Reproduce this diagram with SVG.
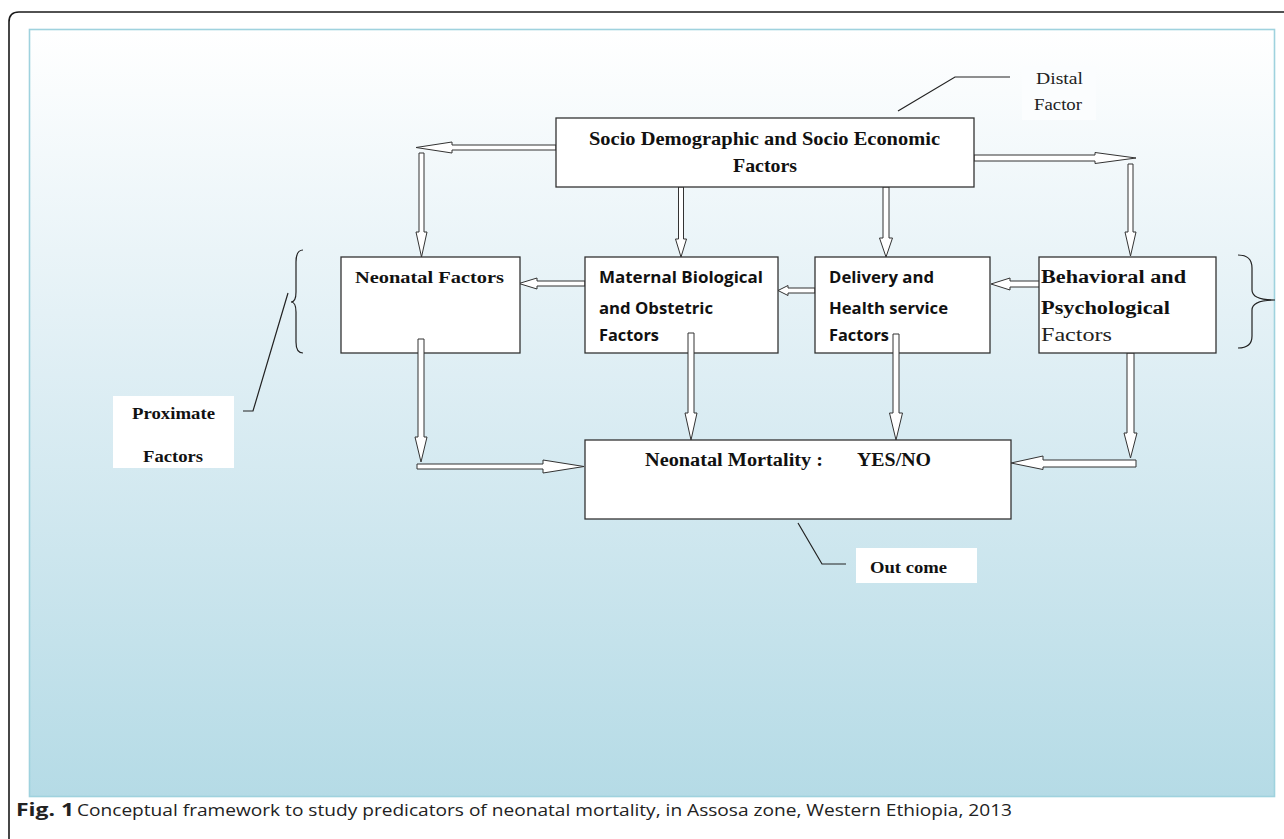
<svg xmlns="http://www.w3.org/2000/svg" width="1284" height="839" viewBox="0 0 1284 839">
<defs>
<linearGradient id="bg" x1="0" y1="0" x2="0" y2="1">
<stop offset="0" stop-color="#ffffff"/>
<stop offset="0.45" stop-color="#deeef4"/>
<stop offset="1" stop-color="#b5dbe6"/>
</linearGradient>
<style>
.box{fill:#ffffff;stroke:#333333;stroke-width:1.3}
.arr{fill:#ffffff;stroke:#333333;stroke-width:1}
.lead{fill:none;stroke:#222222;stroke-width:1.2}
.sb{font-family:"Liberation Serif",serif;font-weight:bold;fill:#111111}
.sr{font-family:"Liberation Serif",serif;fill:#222222}
.ss{font-family:"Open Sans","Liberation Sans",sans-serif;font-weight:bold;fill:#111111}
.cap{font-family:"Open Sans","Liberation Sans",sans-serif;fill:#222222;font-size:17px}
</style>
</defs>
<rect width="1284" height="839" fill="#ffffff"/>
<path d="M9,839 V22 Q9,12 19,12 H1284" fill="none" stroke="#1a1a1a" stroke-width="1.6"/>
<rect x="29.5" y="29.5" width="1245" height="767" fill="url(#bg)" stroke="#9fd2de" stroke-width="1.6"/>

<g id="connectors">
<polygon class="arr" points="556,145 452,145 452,142 416,147.5 452,153 452,150 556,150"/>
<polygon class="arr" points="419,153 424,153 424,232 427,232 421.5,257 416,232 419,232"/>
<polygon class="arr" points="678.5,187 683.5,187 683.5,239 686.5,239 681,257 675.5,239 678.5,239"/>
<polygon class="arr" points="883,187 889,187 889,238 892.5,238 886,257 879.5,238 883,238"/>
<polygon class="arr" points="974,155 1095,155 1095,152.5 1136,158 1095,163.5 1095,161 974,161"/>
<polygon class="arr" points="1128,164 1133,164 1133,232 1136,232 1130.5,256 1125,232 1128,232"/>
<polygon class="arr" points="585,281 537,281 537,278 519,283.5 537,289 537,286 585,286"/>
<polygon class="arr" points="815,288 788,288 788,285.5 778,290.5 788,295.5 788,293 815,293"/>
<polygon class="arr" points="1046,281 1010,281 1010,278 991,284 1010,290 1010,287 1046,287"/>
<polygon class="arr" points="1127,353 1134,353 1134,433 1137,433 1130.5,458 1124,433 1127,433"/>
<polygon class="arr" points="417,464 543,464 543,460 584,466.5 543,473 543,469 417,469"/>
<polygon class="arr" points="1136,460 1043,460 1043,456 1011,463 1043,469.5 1043,467 1136,467"/>
<path class="lead" d="M898,111 L955,77 H1010"/>
<path class="lead" d="M288,293 L253,411 H243"/>
<path class="lead" d="M798,523 L822,564 H846"/>
<path class="lead" d="M303,250 Q296,250 296,262 V292 Q296,302 291,302 Q296,302 296,312 V342 Q296,353 303,353"/>
<path class="lead" d="M1238,255 Q1252,255 1252,268 V290 Q1252,300 1275,300 Q1252,300 1252,310 V336 Q1252,348 1238,348"/>
</g>

<g id="socio">
<rect class="box" x="556" y="118" width="418" height="69"/>
<text class="sb" x="589" y="145" font-size="19.5" textLength="351" lengthAdjust="spacingAndGlyphs">Socio Demographic and Socio Economic</text>
<text class="sb" x="733" y="172" font-size="19.5" textLength="64" lengthAdjust="spacingAndGlyphs">Factors</text>
</g>

<g id="neonatal-factors">
<rect class="box" x="341" y="257" width="179" height="96"/>
<text class="sb" x="355" y="283" font-size="17.5" textLength="149" lengthAdjust="spacingAndGlyphs">Neonatal Factors</text>
</g>

<g id="maternal">
<rect class="box" x="585" y="257" width="193" height="96"/>
<text class="ss" x="599" y="283" font-size="16" textLength="164" lengthAdjust="spacingAndGlyphs">Maternal Biological</text>
<text class="ss" x="599" y="314" font-size="16" textLength="114" lengthAdjust="spacingAndGlyphs">and Obstetric</text>
<text class="ss" x="599" y="341" font-size="16" textLength="60" lengthAdjust="spacingAndGlyphs">Factors</text>
</g>

<g id="delivery">
<rect class="box" x="815" y="257" width="175" height="96"/>
<text class="ss" x="829" y="283" font-size="16" textLength="105" lengthAdjust="spacingAndGlyphs">Delivery and</text>
<text class="ss" x="829" y="314" font-size="16" textLength="119" lengthAdjust="spacingAndGlyphs">Health service</text>
<text class="ss" x="829" y="341" font-size="16" textLength="60" lengthAdjust="spacingAndGlyphs">Factors</text>
</g>

<g id="behavioral">
<rect class="box" x="1039" y="257" width="177" height="96"/>
<text class="sb" x="1041" y="283" font-size="18.5" textLength="145" lengthAdjust="spacingAndGlyphs">Behavioral and</text>
<text class="sb" x="1041" y="314" font-size="18.5" textLength="129" lengthAdjust="spacingAndGlyphs">Psychological</text>
<text class="sr" x="1041" y="341" font-size="18.5" textLength="71" lengthAdjust="spacingAndGlyphs">Factors</text>
</g>

<g id="inner-arrows">
<polygon class="arr" points="418,339 424,339 424,437 427,437 421,462 415,437 418,437"/>
<polygon class="arr" points="688,333 694,333 694,413 697,413 691,440 685,413 688,413"/>
<polygon class="arr" points="893,334 899,334 899,413 902.5,413 896,440 889.5,413 893,413"/>
</g>

<g id="mortality">
<rect class="box" x="585" y="440" width="426" height="79"/>
<text class="sb" x="645" y="466" font-size="18.5" textLength="178" lengthAdjust="spacingAndGlyphs">Neonatal Mortality :</text>
<text class="sb" x="857" y="466" font-size="18.5" textLength="74" lengthAdjust="spacingAndGlyphs">YES/NO</text>
</g>

<g id="outcome">
<rect x="856" y="548" width="121" height="35" fill="#ffffff"/>
<text class="sb" x="870" y="573" font-size="17.5" textLength="77" lengthAdjust="spacingAndGlyphs">Out come</text>
</g>

<g id="proximate">
<rect x="113" y="396" width="121" height="72" fill="#ffffff"/>
<text class="sb" x="132" y="419" font-size="16.5" textLength="83" lengthAdjust="spacingAndGlyphs">Proximate</text>
<text class="sb" x="143" y="462" font-size="16.5" textLength="60" lengthAdjust="spacingAndGlyphs">Factors</text>
</g>

<g id="distal">
<rect x="1022" y="66" width="74" height="54" fill="#fbfdfe"/>
<text class="sr" x="1036" y="84" font-size="16.5" textLength="47" lengthAdjust="spacingAndGlyphs">Distal</text>
<text class="sr" x="1034" y="110" font-size="16.5" textLength="48" lengthAdjust="spacingAndGlyphs">Factor</text>
</g>

<g id="caption">
<text class="cap" x="16" y="816" font-weight="bold" textLength="58" lengthAdjust="spacingAndGlyphs">Fig. 1</text>
<text class="cap" x="77" y="816" textLength="935" lengthAdjust="spacingAndGlyphs">Conceptual framework to study predicators of neonatal mortality, in Assosa zone, Western Ethiopia, 2013</text>
</g>
</svg>
